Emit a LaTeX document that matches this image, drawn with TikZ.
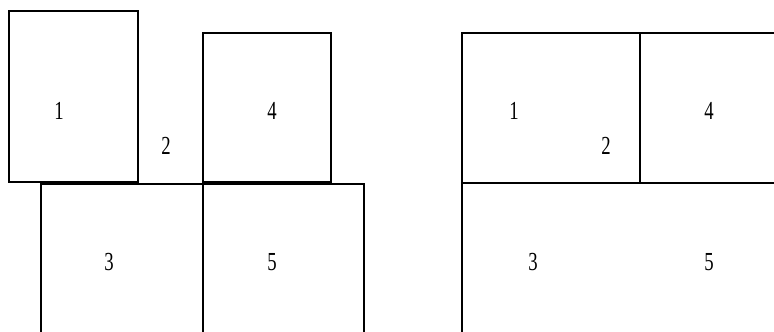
\documentclass[tikz,border=0pt]{standalone}
\usepackage{fontspec}
\setmainfont{Liberation Serif}
\usetikzlibrary{positioning}

\begin{document}
\begin{tikzpicture}[x=1pt,y=-1pt,line width=1.6pt,
    cell/.style={font=\fontsize{26}{26}\selectfont,xscale=0.72,inner sep=0pt}]
  \useasboundingbox (0,0) rectangle (774,332);
  % before: the loose cells
  \draw (9,11) rectangle (138,182);
  \draw (203,33) rectangle (331,182);
  \draw (41,332) -- (41,184) -- (364,184) -- (364,332);
  \draw (203,184) -- (203,332);
  % after: the packed cells
  \draw (774,33) -- (462,33) -- (462,332);
  \draw (462,183) -- (774,183);
  \draw (640,33) -- (640,183);
  \foreach \name/\x/\y/\lab in {a1/59/111/1, a2/166/146/2, a4/272/111/4, a3/109/262/3, a5/272/262/5,
      b1/514/111/1, b2/606/146/2, b4/709/111/4, b3/533/262/3, b5/709/262/5}{
    \node[cell] (\name) at (\x,\y) {\lab};
  }
\end{tikzpicture}
\end{document}
